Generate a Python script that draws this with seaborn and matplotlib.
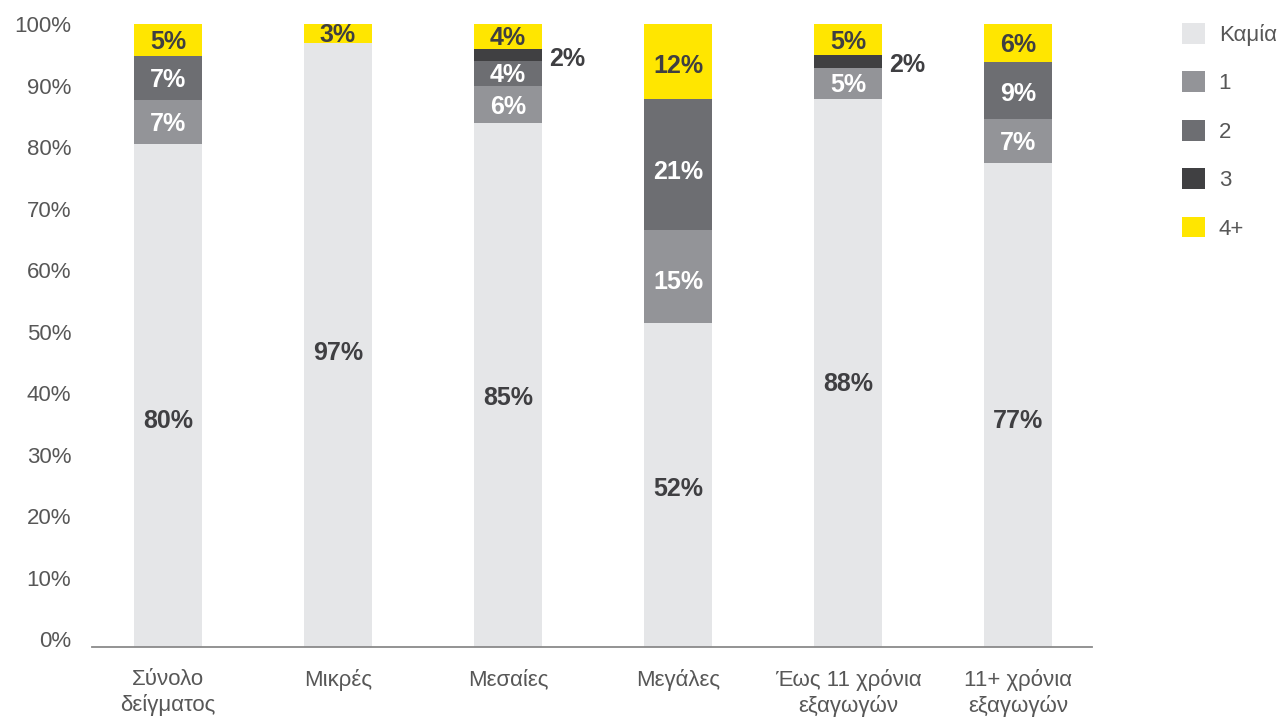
import numpy as np
import pandas as pd
import matplotlib
matplotlib.use("Agg")
import matplotlib.pyplot as plt
from matplotlib.patches import Patch
import seaborn as sns

# Number of ... per company group (share of answers, %)
categories = ["Σύνολο\nδείγματος", "Μικρές", "Μεσαίες", "Μεγάλες",
              "Έως 11 χρόνια\nεξαγωγών", "11+ χρόνια\nεξαγωγών"]
none_vals = [80, 97, 85, 52, 88, 77]
one_vals = [7, 0, 6, 15, 5, 7]
two_vals = [7, 0, 4, 21, 0, 9]
three_vals = [0, 0, 2, 0, 2, 0]
four_plus_vals = [5, 3, 4, 12, 5, 6]

series_names = ["Καμία", "1", "2", "3", "4+"]
series_colors = ["#E5E6E8", "#939498", "#6D6E72", "#404042", "#FFE600"]
label_colors = ["#3F3F42", "white", "white", "#3F3F42", "#3F3F42"]
yticks = list(range(0, 101, 10))
# where the label of the bottom segment sits, as a fraction of its height
base_label_frac = [0.45, 0.487, 0.476, 0.488, 0.48, 0.466]

sns.set_theme(style="white")
plt.rcParams["font.family"] = ["Liberation Sans", "DejaVu Sans"]

W, H = 1284, 717
fig = plt.figure(figsize=(W / 100, H / 100), dpi=100)
ax = fig.add_axes([92 / W, 70 / H, 1000 / W, 623 / H])

raw = np.array([none_vals, one_vals, two_vals, three_vals, four_plus_vals], dtype=float)
# 100% stacked: each column is scaled to its own total
shares = raw / raw.sum(axis=0) * 100
bottoms = np.vstack([np.zeros(len(categories)), np.cumsum(shares, axis=0)[:-1]])

bar_w = 0.4
for k, name in enumerate(series_names):
    df = pd.DataFrame({"group": categories, "share": shares[k]})
    sns.barplot(data=df, x="group", y="share", order=categories,
                color=series_colors[k], saturation=1, width=bar_w,
                bottom=bottoms[k], errorbar=None, linewidth=0, ax=ax)

# value labels
for k in range(len(series_names)):
    for i in range(len(categories)):
        v = raw[k, i]
        if v == 0:
            continue
        h = shares[k, i]
        b = bottoms[k, i]
        if k == 3:
            # thin segment: label sits beside the bar
            ax.annotate(f"{int(v)}%", xy=(i + bar_w / 2, b + h / 2),
                        xytext=(5, -2.5), textcoords="offset points",
                        ha="left", va="center", fontsize=18,
                        fontweight="bold", color="#3F3F42")
            continue
        y = b + h * (base_label_frac[i] if k == 0 else 0.44)
        ax.text(i, y, f"{int(v)}%", ha="center", va="center",
                fontsize=18, fontweight="bold", color=label_colors[k])

ax.set_xlim(-0.447, 5.435)
ax.set_ylim(0, 100)
# tick labels sit on a slightly tighter grid than the bars
ax.set_yticks([1.25 + t * 0.988 for t in yticks])
ax.set_yticklabels([f"{t}%" for t in yticks])
ax.set_xlabel("")
ax.set_ylabel("")
ax.tick_params(axis="y", length=0, pad=15, labelsize=16, labelcolor="#575757")
ax.tick_params(axis="x", length=0, pad=16, labelsize=16, labelcolor="#575757")
for s in ["left", "top", "right"]:
    ax.spines[s].set_visible(False)
ax.spines["bottom"].set_color("#8A8A8A")
ax.spines["bottom"].set_linewidth(1.3)
ax.grid(False)

handles = [Patch(facecolor=c, edgecolor="none", label=n)
           for n, c in zip(series_names, series_colors)]
fig.legend(handles=handles, loc="upper left",
           bbox_to_anchor=(1182 / W, 1 - 23 / H), frameon=False,
           fontsize=16, handlelength=1.05, handleheight=1.05,
           handletextpad=0.6, labelspacing=1.15, borderpad=0,
           borderaxespad=0, labelcolor="#575757")

fig.savefig("out.png", dpi=100)
